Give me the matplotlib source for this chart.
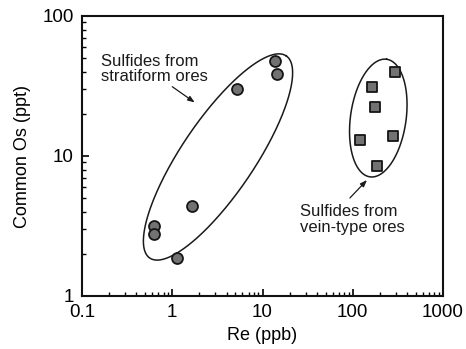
import numpy as np
import matplotlib
matplotlib.use("Agg")
import matplotlib.pyplot as plt
from matplotlib.ticker import LogLocator, NullFormatter, FixedFormatter, FixedLocator

plt.rcParams['font.family'] = ['Liberation Sans', 'DejaVu Sans']

# Data
strat_re = [13.8, 14.5, 5.26, 1.64, 0.62, 0.62, 1.12]
strat_os = [48.0, 38.5, 30.1, 4.4, 3.18, 2.77, 1.87]
vein_re = [292, 163, 176, 120, 277, 184]
vein_os = [39.8, 31.0, 22.4, 13.1, 13.8, 8.5]

x_ticks = [0.1, 1, 10, 100, 1000]
x_ticklabels = ['0.1', '1', '10', '100', '1000']
y_ticks = [1, 10, 100]
y_ticklabels = ['1', '10', '100']

# Ellipses in log10 space: center, semi-axis vector A, semi-axis vector B
ell1_center = [0.507, 0.993]
ell1_A = [0.756, 0.722]
ell1_B = [-0.335, 0.146]
ell2_center = [2.283, 1.271]
ell2_A = [0.0927, 0.420]
ell2_B = [-0.305, 0.0280]

W, H = 466, 349
fig = plt.figure(figsize=(W / 100, H / 100), dpi=100)
ax = fig.add_axes([82 / W, 1 - 296 / H, (443 - 82) / W, (296 - 16) / H])
ax.set_xscale('log')
ax.set_yscale('log')
ax.set_xlim(0.1, 1000)
ax.set_ylim(1, 100)

for c, A, B in [(ell1_center, ell1_A, ell1_B), (ell2_center, ell2_A, ell2_B)]:
    t = np.linspace(0, 2 * np.pi, 400)
    lx = c[0] + A[0] * np.cos(t) + B[0] * np.sin(t)
    ly = c[1] + A[1] * np.cos(t) + B[1] * np.sin(t)
    ax.plot(10 ** lx, 10 ** ly, color='#1a1a1a', lw=1.1, zorder=2)

ax.scatter(strat_re, strat_os, s=62, marker='o', facecolor='#727272',
           edgecolor='#151515', linewidth=1.3, zorder=3)
ax.scatter(vein_re, vein_os, s=62, marker='s', facecolor='#727272',
           edgecolor='#151515', linewidth=1.3, zorder=3)

ax.annotate('', xy=(1.88, 23.5), xytext=(0.944, 32.1),
            arrowprops=dict(arrowstyle='-|>,head_length=0.4,head_width=0.15',
                            color='#1a1a1a', lw=0.9))
ax.text(0.161, 41.8, 'Sulfides from\nstratiform ores', ha='left', va='center',
        fontsize=12, color='#1a1a1a', linespacing=1.05)

ax.annotate('', xy=(151, 6.96), xytext=(88.5, 4.85),
            arrowprops=dict(arrowstyle='-|>,head_length=0.4,head_width=0.15',
                            color='#1a1a1a', lw=0.9))
ax.text(26.0, 3.53, 'Sulfides from\nvein-type ores', ha='left', va='center',
        fontsize=12, color='#1a1a1a', linespacing=1.05)

ax.xaxis.set_major_locator(FixedLocator(x_ticks))
ax.xaxis.set_major_formatter(FixedFormatter(x_ticklabels))
ax.yaxis.set_major_locator(FixedLocator(y_ticks))
ax.yaxis.set_major_formatter(FixedFormatter(y_ticklabels))
ax.xaxis.set_minor_locator(LogLocator(base=10, subs=np.arange(2, 10)))
ax.yaxis.set_minor_locator(LogLocator(base=10, subs=np.arange(2, 10)))
ax.xaxis.set_minor_formatter(NullFormatter())
ax.yaxis.set_minor_formatter(NullFormatter())

ax.tick_params(which='major', direction='in', length=5, width=1.2,
               labelsize=13.5, pad=6, top=False, right=False)
ax.tick_params(which='minor', direction='in', length=3, width=1.0,
               top=False, right=False)
for sp in ax.spines.values():
    sp.set_linewidth(1.5)
    sp.set_color('#111111')

ax.set_xlabel('Re (ppb)', fontsize=13, labelpad=4)
ax.set_ylabel('Common Os (ppt)', fontsize=13, labelpad=8)

fig.savefig('out.png', dpi=100)
